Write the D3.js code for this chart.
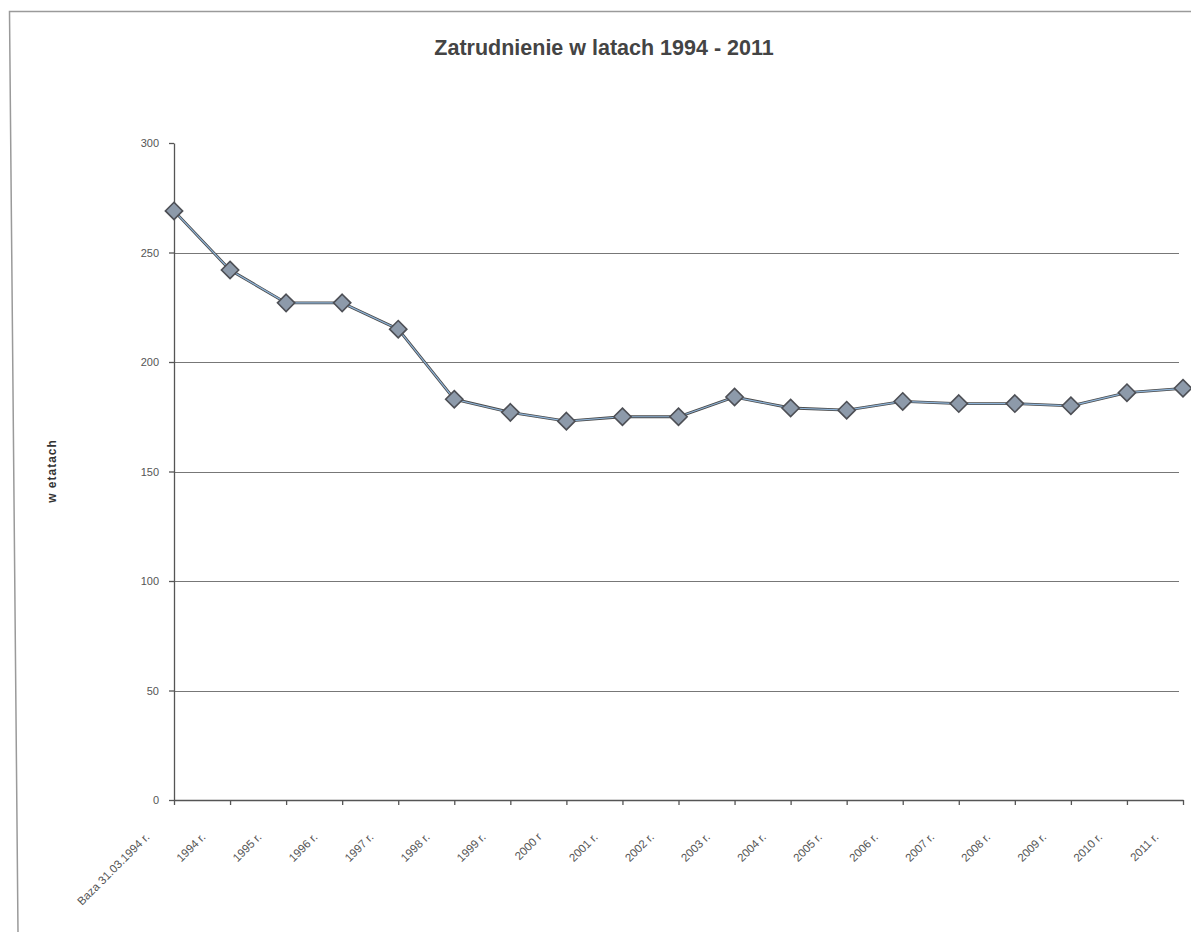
<!DOCTYPE html>
<meta charset="utf-8">
<style>
html, body { margin: 0; background: #fff; }
svg { font-family: "Liberation Sans", Arial, sans-serif; }
.grid line { stroke: #777; stroke-width: 1; shape-rendering: crispEdges; }
.grid path { stroke-width: 0; }
.axis path, .axis line { stroke: #555; stroke-width: 1.3; }
.axis text { fill: #555; }
.line { fill: none; stroke: #4a4a4a; stroke-width: 2.8; }
.line-under { fill: none; stroke: #8fb4d8; stroke-width: 1.2; }
.dot { fill: #8d9aaa; stroke: #4d4f55; stroke-width: 1.6; }
</style>
<body></body>
<script src="https://d3js.org/d3.v7.min.js"></script>
<script>

// data
var categories = ["Baza 31.03.1994 r.", "1994 r.", "1995 r.", "1996 r.", "1997 r.", "1998 r.",
  "1999 r.", "2000 r", "2001 r.", "2002 r.", "2003 r.", "2004 r.", "2005 r.", "2006 r.",
  "2007 r.", "2008 r.", "2009 r.", "2010 r.", "2011 r."];
var etaty = [269, 242, 227, 227, 215, 183, 177, 173, 175, 175, 184, 179, 178, 182, 181, 181, 180, 186, 188];
var yTicks = [0, 50, 100, 150, 200, 250, 300];

var W = 1191, H = 932;
var x0 = 174, x1 = 1183, yTop = 143, yBot = 800;

var svg = d3.select("body").append("svg")
    .attr("width", W)
    .attr("height", H);

// scanned page frame (top + left edges)
svg.append("path")
    .attr("d", "M18,932 L9.5,11.5 H1191")
    .attr("fill", "none")
    .attr("stroke", "#9a9a9a")
    .attr("stroke-width", 1.5);

var xScale = d3.scalePoint()
    .domain(categories)
    .range([x0, x1]);

var yScale = d3.scaleLinear()
    .domain([0, 300])
    .range([yBot, yTop]);

// gridlines
svg.append("g")
    .attr("class", "grid")
    .attr("transform", "translate(" + x0 + ",0)")
    .call(d3.axisRight(yScale).tickValues(yTicks.filter(function(v) { return v > 0 && v < 300; }))
        .tickSize(x1 - x0 - 4).tickFormat(""));

// y axis
svg.append("g")
    .attr("class", "axis")
    .attr("transform", "translate(" + x0 + ",0)")
    .call(d3.axisLeft(yScale).tickValues(yTicks).tickSize(5).tickSizeOuter(0).tickPadding(10))
    .selectAll("text").attr("font-size", 11);

// x axis
var xg = svg.append("g")
    .attr("class", "axis")
    .attr("transform", "translate(0," + yBot + ")")
    .call(d3.axisBottom(xScale).tickSize(5).tickSizeOuter(0));

xg.selectAll("text")
    .attr("font-size", 11.5)
    .attr("text-anchor", "end")
    .attr("dy", 0)
    .attr("transform", "translate(-30,32) rotate(-45)");

// title
svg.append("text")
    .attr("x", 604)
    .attr("y", 55)
    .attr("text-anchor", "middle")
    .attr("font-size", 21.5)
    .attr("font-weight", "bold")
    .attr("fill", "#444")
    .text("Zatrudnienie w latach 1994 - 2011");

// y label
svg.append("text")
    .attr("transform", "translate(56,471) rotate(-90)")
    .attr("text-anchor", "middle")
    .attr("font-size", 12)
    .attr("font-weight", "bold")
    .attr("letter-spacing", 1)
    .attr("fill", "#333")
    .text("w etatach");

var line = d3.line()
    .x(function(d, i) { return xScale(categories[i]); })
    .y(function(d) { return yScale(d); });

svg.append("path").datum(etaty).attr("class", "line").attr("d", line);
svg.append("path").datum(etaty).attr("class", "line-under").attr("d", line);

var diamond = d3.symbol().type(d3.symbolDiamond2).size(190);

svg.selectAll(".dot")
    .data(etaty)
    .enter().append("path")
    .attr("class", "dot")
    .attr("d", diamond)
    .attr("transform", function(d, i) {
        return "translate(" + xScale(categories[i]) + "," + yScale(d) + ")";
    });

</script>
